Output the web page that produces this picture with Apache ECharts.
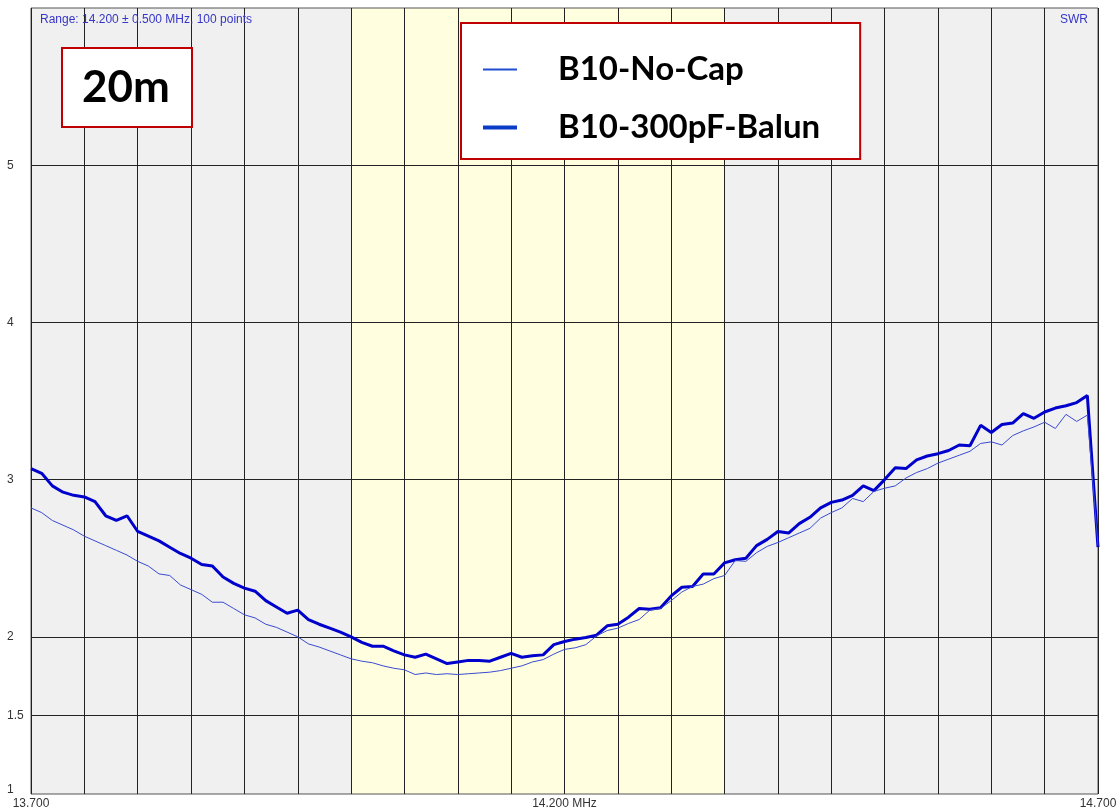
<!DOCTYPE html>
<html>
<head>
<meta charset="utf-8">
<title>SWR 20m</title>
<script src="https://cdn.jsdelivr.net/npm/echarts@6/dist/echarts.min.js"></script>
<style>
  html, body { margin: 0; padding: 0; background: #fff; }
  #chart { width: 1120px; height: 811px; }
</style>
</head>
<body>
<div id="chart"></div>
<script>
// sweep: 13.700 .. 14.700 MHz, 10 kHz steps
const startKHz = 13700;
const stepKHz = 10;

// SWR
const noCap = [
  2.82, 2.79, 2.74, 2.71, 2.68, 2.64, 2.61, 2.58, 2.55, 2.52,
  2.48, 2.45, 2.40, 2.39, 2.33, 2.30, 2.27, 2.22, 2.22, 2.18,
  2.14, 2.12, 2.08, 2.06, 2.03, 2.00, 1.955, 1.935, 1.91, 1.885,
  1.86, 1.845, 1.835, 1.815, 1.80, 1.79, 1.76, 1.77, 1.76, 1.765,
  1.76, 1.765, 1.77, 1.775, 1.785, 1.80, 1.815, 1.84, 1.855, 1.89,
  1.92, 1.93, 1.95, 2.005, 2.04, 2.055, 2.085, 2.11, 2.17, 2.18,
  2.23, 2.285, 2.32, 2.335, 2.37, 2.39, 2.485, 2.48, 2.535, 2.575,
  2.60, 2.63, 2.66, 2.69, 2.755, 2.79, 2.82, 2.88, 2.86, 2.925,
  2.945, 2.96, 3.01, 3.045, 3.07, 3.105, 3.13, 3.155, 3.18, 3.23,
  3.24, 3.22, 3.28, 3.31, 3.335, 3.365, 3.325, 3.415, 3.37, 3.41,
  2.58
];
const balun300 = [
  3.07, 3.04, 2.96, 2.92, 2.90, 2.89, 2.86, 2.77, 2.74, 2.77,
  2.67, 2.64, 2.61, 2.57, 2.53, 2.50, 2.46, 2.45, 2.38, 2.34,
  2.31, 2.29, 2.23, 2.19, 2.15, 2.17, 2.11, 2.08, 2.055, 2.03,
  2.00, 1.965, 1.94, 1.94, 1.91, 1.885, 1.87, 1.89, 1.86, 1.83,
  1.84, 1.85, 1.85, 1.845, 1.87, 1.895, 1.87, 1.88, 1.885, 1.95,
  1.97, 1.985, 1.995, 2.01, 2.07, 2.08, 2.125, 2.18, 2.175, 2.185,
  2.26, 2.315, 2.32, 2.40, 2.40, 2.47, 2.49, 2.50, 2.58, 2.62,
  2.67, 2.66, 2.72, 2.76, 2.82, 2.855, 2.87, 2.90, 2.96, 2.93,
  3.00, 3.075, 3.07, 3.125, 3.15, 3.165, 3.185, 3.22, 3.215, 3.345,
  3.30, 3.35, 3.36, 3.42, 3.39, 3.43, 3.455, 3.47, 3.49, 3.535,
  2.57
];

const seriesNames = ['B10-No-Cap', 'B10-300pF-Balun'];
const bandKHz = [14000, 14350];          // 20m band, yellow
const yGridValues = [1.5, 2, 3, 4, 5];
const yLabelValues = [1, 1.5, 2, 3, 4, 5];
const xLabelText = { 13700: '13.700', 14200: '14.200 MHz', 14700: '14.700' };

const toPairs = vals => vals.map((v, i) => [startKHz + i * stepKHz, v]);

const chart = echarts.init(document.getElementById('chart'));

chart.setOption({
  animation: false,
  backgroundColor: '#fff',
  grid: {
    left: 31, right: 22, top: 8, bottom: 17,
    show: true,
    backgroundColor: 'transparent',
    borderColor: '#555',
    borderWidth: 1,
    outerBoundsMode: 'none'
  },
  xAxis: {
    type: 'value',
    min: 13700, max: 14700, interval: 50,
    axisLine: { show: false },
    axisTick: { show: false },
    splitLine: { show: true, lineStyle: { color: '#222', width: 1 } },
    axisLabel: {
      margin: 4,
      hideOverlap: false,
      showMinLabel: true,
      showMaxLabel: true,
      fontFamily: 'Liberation Sans, Arial',
      fontSize: 12,
      color: '#333',
      formatter: v => xLabelText[v] || ''
    }
  },
  yAxis: {
    type: 'value',
    min: 1, max: 6, interval: 0.5,
    axisLine: { show: false },
    axisTick: { show: false },
    splitLine: { show: false },
    axisLabel: {
      align: 'left',
      margin: 24,
      fontFamily: 'Liberation Sans, Arial',
      fontSize: 12,
      color: '#333',
      formatter: v => v === 1 ? '{low|1}' : (yLabelValues.includes(v) ? String(v) : ''),
      rich: {
        low: { fontFamily: 'Liberation Sans, Arial', fontSize: 12, color: '#333', padding: [0, 0, 8, 0] }
      }
    }
  },
  legend: {
    orient: 'vertical',
    left: 461, top: 23,
    padding: [30, 40, 15, 20],
    itemGap: 25,
    itemWidth: 34, itemHeight: 14,
    backgroundColor: '#fff',
    borderColor: '#c00000', borderWidth: 2,
    selectedMode: false,
    itemStyle: { opacity: 0 },
    textStyle: {
      fontFamily: 'Lato', fontWeight: 'bold', fontSize: 33, color: '#000',
      padding: [0, 0, 0, 36]
    },
    data: [
      { name: seriesNames[0], lineStyle: { color: '#1f4fd0', width: 2 } },
      { name: seriesNames[1], lineStyle: { color: '#0a3cc8', width: 4 } }
    ]
  },
  graphic: [
    {
      type: 'rect', left: 61, top: 47, z: 100,
      shape: { width: 130, height: 79 },
      style: { fill: '#fff', stroke: '#c00000', lineWidth: 2 }
    },
    {
      type: 'text', x: 126, y: 88, z: 101,
      style: { text: '20m', font: 'bold 44px Lato', fill: '#000', align: 'center', verticalAlign: 'middle' }
    },
    {
      type: 'text', x: 40, y: 20, z: 100,
      style: { text: 'Range: 14.200 \u00b1 0.500 MHz, 100 points', font: '12px "Liberation Sans", Arial', fill: '#3535c8', verticalAlign: 'middle' }
    },
    {
      type: 'text', x: 1088, y: 20, z: 100,
      style: { text: 'SWR', font: '12px "Liberation Sans", Arial', fill: '#3535c8', align: 'right', verticalAlign: 'middle' }
    }
  ],
  series: [
    {
      name: 'background',
      type: 'line',
      z: -2,
      silent: true,
      data: [],
      markArea: {
        z: -2,
        silent: true,
        data: [
          [{ xAxis: startKHz, itemStyle: { color: '#f0f0f0' } }, { xAxis: bandKHz[0] }],
          [{ xAxis: bandKHz[0], itemStyle: { color: '#ffffe0' } }, { xAxis: bandKHz[1] }],
          [{ xAxis: bandKHz[1], itemStyle: { color: '#f0f0f0' } }, { xAxis: 14700 }]
        ]
      }
    },
    {
      name: 'grid',
      type: 'line',
      z: -1,
      silent: true,
      data: [],
      markLine: {
        z: -1,
        silent: true,
        symbol: ['none', 'none'],
        label: { show: false },
        lineStyle: { color: '#222', width: 1, type: 'solid' },
        data: yGridValues.map(v => ({ yAxis: v }))
      }
    },
    {
      name: seriesNames[1],
      type: 'line',
      showSymbol: false,
      symbol: 'none',
      data: toPairs(balun300),
      lineStyle: { color: '#0000cc', width: 3 },
      itemStyle: { color: '#0000cc' },
      z: 2
    },
    {
      name: seriesNames[0],
      type: 'line',
      showSymbol: false,
      symbol: 'none',
      data: toPairs(noCap),
      lineStyle: { color: '#3a4bd0', width: 1 },
      itemStyle: { color: '#3a4bd0' },
      z: 3
    }
  ]
});
</script>
</body>
</html>
